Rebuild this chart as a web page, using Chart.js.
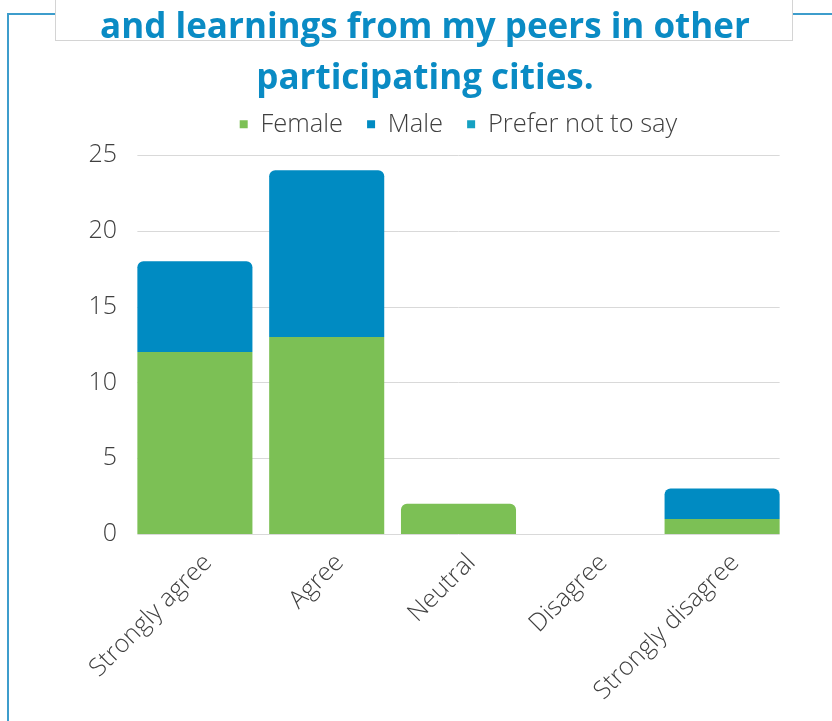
<!DOCTYPE html>
<html>
<head>
<meta charset="utf-8">
<script src="https://cdn.jsdelivr.net/npm/chart.js@4.4.1/dist/chart.umd.min.js"></script>
<style>
  html,body{margin:0;padding:0;background:#fff}
  #wrap{position:relative;width:832px;height:721px;overflow:hidden;background:#fff}
  .ln{position:absolute;background:#3d9dcc}
  #box{position:absolute;left:55px;top:-2px;width:736px;height:41px;border:1px solid #d4d4d4;background:#fff}
  canvas{position:absolute;left:0;top:0}
</style>
</head>
<body>
<div id="wrap">
  <div class="ln" style="left:7px;top:13px;width:2px;height:708px"></div>
  <div class="ln" style="left:7px;top:13px;width:48px;height:2px"></div>
  <div class="ln" style="left:792px;top:13px;width:40px;height:2px"></div>
  <div id="box"></div>
  <canvas id="chart" width="832" height="721"></canvas>
</div>
<script>
/* ── data ── */
const categories=['Strongly agree','Agree','Neutral','Disagree','Strongly disagree'];
const female=[12,13,2,0,1];
const male=[6,11,0,0,2];
const preferNot=[0,0,0,0,0];
const yTicks=[0,5,10,15,20,25];
const titleLines=['and learnings from my peers in other','participating cities.'];

const series=[female,male,preferNot];

// round only the top of each stack
function topRadius(ctx){
  const i=ctx.datasetIndex,j=ctx.dataIndex;
  if(!series[i][j])return 0;
  for(let k=i+1;k<series.length;k++){if(series[k][j])return 0}
  return {topLeft:6,topRight:6,bottomLeft:0,bottomRight:0};
}

// horizontal gridlines only spanning first bar edge -> last bar edge
const gridPlugin={
  id:'barGrid',
  beforeDatasetsDraw:function(chart){
    const bars=chart.getDatasetMeta(0).data;
    if(!bars.length)return;
    const half=bars[0].width/2;
    const x0=bars[0].x-half,x1=bars[bars.length-1].x+half;
    const y=chart.scales.y,c=chart.ctx;
    c.save();
    c.strokeStyle='#d9d9d9';c.lineWidth=1;
    yTicks.forEach(function(v){
      const py=Math.round(y.getPixelForValue(v))+0.5;
      c.beginPath();c.moveTo(x0,py);c.lineTo(x1,py);c.stroke();
    });
    c.restore();
  }
};

// a little empty strip between legend and plot
const gapPlugin={
  id:'legendGap',
  beforeInit:function(chart){
    Chart.layouts.addBox(chart,{
      position:'top',weight:500,fullSize:false,options:{},
      isHorizontal:function(){return true},
      update:function(w){this.width=w;this.height=8},
      draw:function(){}
    });
  }
};

const FONT='"Open Sans", "DejaVu Sans", sans-serif';
const TXT='#404040';

new Chart(document.getElementById('chart'),{
  type:'bar',
  data:{
    labels:categories,
    datasets:[
      {label:'Female',data:female,backgroundColor:'#7cc055'},
      {label:'Male',data:male,backgroundColor:'#008bc2'},
      {label:'Prefer not to say',data:preferNot,backgroundColor:'#16a1c2'}
    ].map(function(d){d.borderRadius=topRadius;d.borderSkipped=false;d.categoryPercentage=0.873;d.barPercentage=1;return d})
  },
  plugins:[gridPlugin,gapPlugin],
  options:{
    responsive:false,
    animation:false,
    layout:{padding:{left:62,right:44,top:0,bottom:1}},
    plugins:{
      title:{display:true,text:titleLines,color:'#0a8bc4',font:{family:FONT,size:35,weight:'bold',lineHeight:1.45},padding:{top:3,bottom:-17}},
      legend:{position:'top',fullSize:false,labels:{color:TXT,font:{family:FONT,size:25.5,weight:300},boxWidth:8,boxHeight:8,padding:24}},
      tooltip:{enabled:false}
    },
    scales:{
      x:{
        stacked:true,
        grid:{display:false,drawTicks:false},
        border:{display:false},
        ticks:{color:TXT,font:{family:FONT,size:25,weight:300},minRotation:45,maxRotation:45,padding:14,labelOffset:13}
      },
      y:{
        stacked:true,
        min:0,max:25,
        afterFit:function(s){s.width=67},
        afterBuildTicks:function(s){s.ticks=yTicks.map(function(v){return {value:v}})},
        grid:{display:false,drawTicks:false},
        border:{display:false},
        ticks:{color:TXT,font:{family:FONT,size:25,weight:300},padding:12}
      }
    }
  }
});
</script>
</body>
</html>
